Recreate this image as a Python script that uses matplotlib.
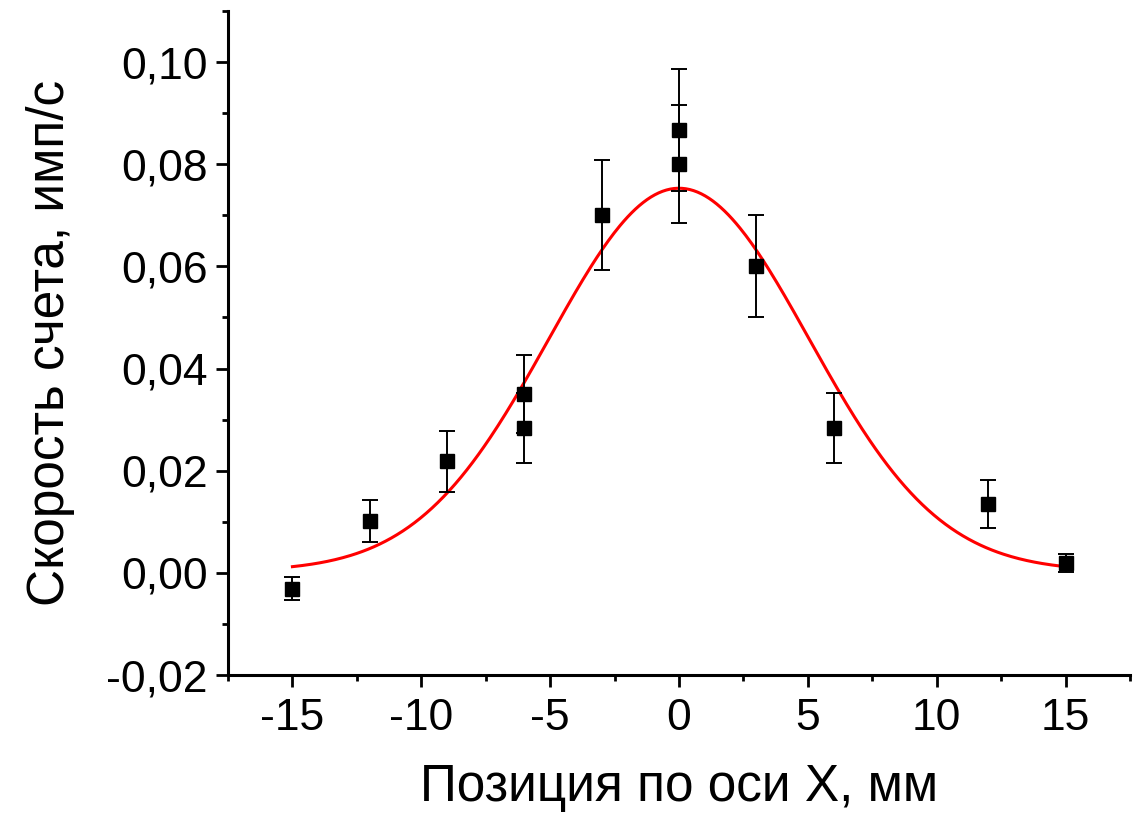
import numpy as np
import matplotlib
matplotlib.use("Agg")
import matplotlib.pyplot as plt
from matplotlib.ticker import MultipleLocator, FuncFormatter

plt.rcParams['font.family'] = ['Liberation Sans', 'DejaVu Sans']

# Measured data
x_pos = [-15, -12, -9, -6, -6, -3, 0, 0, 3, 6, 12, 15]
rate = [-0.0031, 0.0102, 0.0218, 0.0350, 0.0284, 0.0701, 0.0867, 0.0800, 0.0601, 0.0284, 0.0134, 0.0019]
rate_err = [0.0023, 0.0041, 0.0060, 0.0076, 0.0068, 0.0108, 0.0120, 0.0115, 0.0100, 0.0068, 0.0047, 0.0017]

# Gaussian fit parameters
fit_y0 = 0.0003
fit_A = 0.0750
fit_xc = 0.0
fit_w = 5.05
fit_range = (-15, 15)

x_ticks = [-15, -10, -5, 0, 5, 10, 15]
y_ticks = [-0.02, 0.00, 0.02, 0.04, 0.06, 0.08, 0.10]

fig = plt.figure(figsize=(11.41, 8.17), dpi=100)
ax = fig.add_axes([228/1141, 1-675/817, (1130-228)/1141, (675-11)/817])

xf = np.linspace(fit_range[0], fit_range[1], 400)
yf = fit_y0 + fit_A * np.exp(-(xf - fit_xc)**2 / (2 * fit_w**2))
ax.plot(xf, yf, color='#ff0000', lw=2.2, zorder=3)

ax.errorbar(x_pos, rate, yerr=rate_err, fmt='s', color='black', ms=9.5,
            ecolor='black', elinewidth=1.4, capsize=6, capthick=1.4, zorder=4)

ax.set_xlim(-17.5, 17.5)
ax.set_ylim(-0.02, 0.11)
ax.set_xticks(x_ticks)
ax.set_yticks(y_ticks)
ax.xaxis.set_minor_locator(MultipleLocator(2.5))
ax.yaxis.set_minor_locator(MultipleLocator(0.01))
ax.xaxis.set_major_formatter(FuncFormatter(lambda v, p: f"{v:.0f}".replace('−', '-')))
ax.yaxis.set_major_formatter(FuncFormatter(lambda v, p: f"{v:.2f}".replace('.', ',')))

for s in ['top', 'right']:
    ax.spines[s].set_visible(False)
for s in ['left', 'bottom']:
    ax.spines[s].set_linewidth(2.2)

ax.tick_params(which='major', direction='out', length=8.6, width=2.0, labelsize=32, pad=6)
ax.tick_params(axis='x', which='major', pad=8)
ax.tick_params(which='minor', direction='out', length=4.5, width=2.0)

ax.set_xlabel('Позиция по оси X, мм', fontsize=37)
ax.set_ylabel('Скорость счета, имп/с', fontsize=37)
ax.xaxis.set_label_coords(0.5, (675 - 763) / 664)
ax.yaxis.set_label_coords((75 - 228) / 902, 0.5)

fig.savefig('out.png', dpi=100)
